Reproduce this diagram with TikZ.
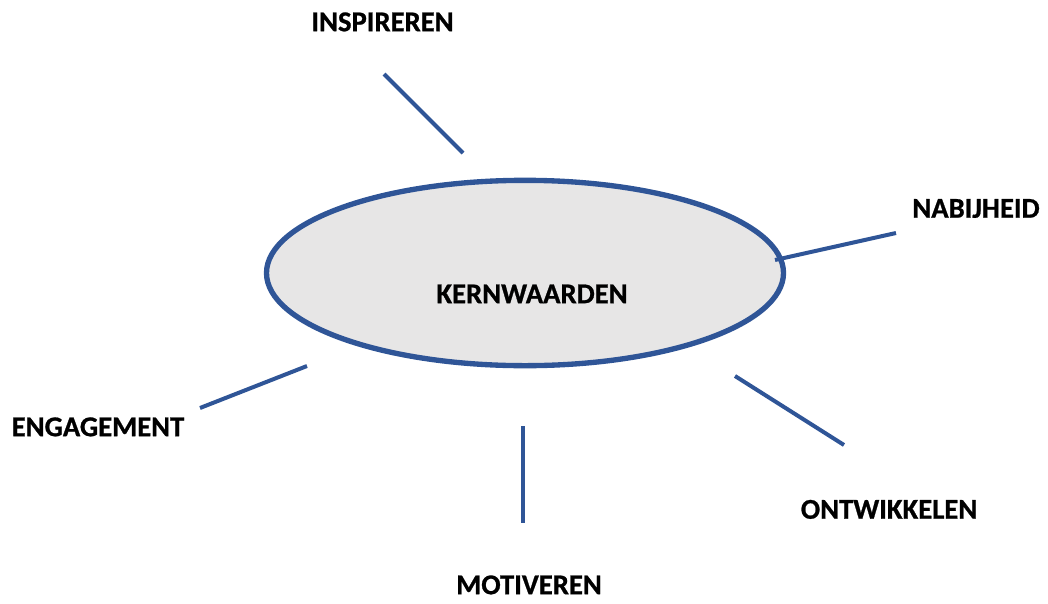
\documentclass[tikz,border=0pt]{standalone}
\usepackage{fontspec}
\setmainfont{Carlito}[BoldFeatures={FakeBold=0.8}]
\usetikzlibrary{shapes.geometric}
\definecolor{lineblue}{HTML}{2F5597}
\definecolor{fillgray}{HTML}{E7E6E6}
\tikzset{
  lbl/.style={inner sep=0pt, outer sep=0pt, font=\fontsize{21.5}{25}\selectfont\bfseries, text height=13.8pt, text depth=0pt, anchor=center},
  spoke/.style={draw=lineblue, line width=3pt},
  core/.style={ellipse, draw=lineblue, fill=fillgray, line width=4pt, minimum width=387.75pt, minimum height=139pt, inner sep=0pt, outer sep=0pt}
}
\begin{document}
\begin{tikzpicture}[x=0.75pt,y=-0.75pt]
\useasboundingbox (0,0) rectangle (1048,603);
\node[core] (kern) at (525,273) {};
\node[lbl] (kernt) at (532,294) {KERNWAARDEN};
\node[lbl] (insp) at (382.5,22) {INSPIREREN};
\node[lbl] (nabij) at (976,208.5) {NABIJHEID};
\node[lbl] (eng) at (98,427) {ENGAGEMENT};
\node[lbl] (ontw) at (889,509.5) {ONTWIKKELEN};
\node[lbl] (motiv) at (529,585) {MOTIVEREN};
\coordinate (i1) at (384,74); \coordinate (i2) at (463,153);
\coordinate (n1) at (775,260); \coordinate (n2) at (896,233);
\coordinate (e1) at (200,408); \coordinate (e2) at (307,366);
\coordinate (o1) at (735,376); \coordinate (o2) at (844,445);
\coordinate (m1) at (523,426); \coordinate (m2) at (523,523);
\draw[spoke] (i1) -- (i2);
\draw[spoke] (n1) -- (n2);
\draw[spoke] (e1) -- (e2);
\draw[spoke] (o1) -- (o2);
\draw[spoke] (m1) -- (m2);
\end{tikzpicture}
\end{document}
